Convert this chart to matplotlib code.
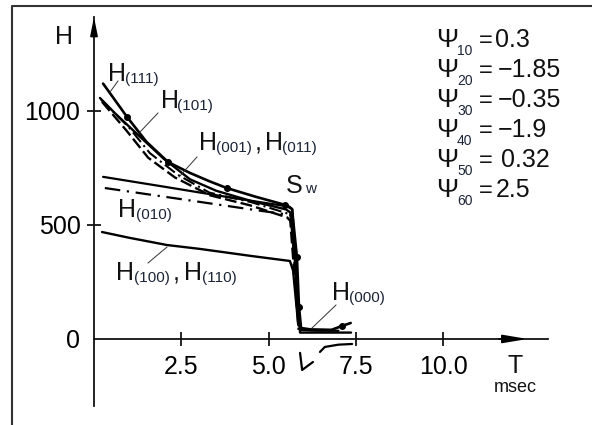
import numpy as np
import matplotlib
matplotlib.use('Agg')
import matplotlib.pyplot as plt
from matplotlib.lines import Line2D

plt.rcParams['font.family'] = ['Liberation Sans', 'DejaVu Sans']

W, H = 592, 425

# curve data, T in msec, H in field units
t111 = [0.26, 0.94, 1.5, 2.12, 2.75, 3.3, 3.8, 4.6, 5.47, 5.67, 5.81, 5.87, 5.93, 6.2, 6.8, 7.1, 7.35]
h111 = [1120, 975, 865, 776, 728, 692, 662, 625, 588, 570, 360, 140, 48, 42, 40, 57, 70]
dots111 = [1, 3, 6, 8, 10, 11, 15]

t101 = [0.17, 0.6, 1.26, 2.0, 2.75, 3.5, 4.5, 5.5, 5.62, 5.78, 5.9, 6.5, 7.36]
h101 = [1057, 990, 895, 790, 700, 650, 605, 568, 555, 300, 28, 28, 28]

t001 = [0.23, 0.94, 1.55, 2.32, 3.32, 4.47, 5.53, 5.62, 5.86]
h001 = [1040, 912, 795, 708, 630, 586, 533, 518, 40]

t011 = [0.2, 1.0, 1.6, 2.4, 3.3, 4.5, 5.55, 5.64, 5.88]
h011 = [1050, 928, 815, 720, 642, 600, 550, 534, 40]

t_up = [0.26, 2.0, 4.0, 5.6, 5.68, 5.9, 6.4, 7.0]
h_up = [711, 668, 618, 580, 568, 40, 36, 36]

t010 = [0.31, 2.5, 4.5, 5.61, 5.68, 5.88]
h010 = [662, 613, 568, 544, 530, 40]

t100 = [0.23, 1.0, 2.09, 3.03, 4.5, 5.61, 5.7, 5.85]
h100 = [469, 444, 412, 395, 364, 342, 300, 60]

# pieces below the T axis
t_v = [5.9, 5.96, 6.27]
h_v = [-61, -136, -101]
t_neg = [6.47, 6.61, 7.0, 7.39]
h_neg = [-57, -35, -25, -22]

psi_names = ['10', '20', '30', '40', '50', '60']
psi_vals = ['0.3', '\u22121.85', '\u22120.35', '\u22121.9', '0.32', '2.5']

xticks = [2.5, 5.0, 7.5, 10.0]
xlabels = ['2.5', '5.0', '7.5', '10.0']
yticks = [0, 500, 1000]
ylabels = ['0', '500', '1000']

fig = plt.figure(figsize=(W / 100, H / 100), dpi=100)
ax = fig.add_axes([94 / W, 19 / H, 454 / W, 389 / H])
ax.set_xlim(0, 13.0)
ax.set_ylim(-294, 1412)

for s in ['top', 'right']:
    ax.spines[s].set_visible(False)
ax.spines['bottom'].set_position(('data', 0))
for s in ['left', 'bottom']:
    ax.spines[s].set_linewidth(1.3)
    ax.spines[s].set_color('#111111')

ax.set_xticks(xticks)
ax.set_xticklabels(xlabels)
ax.set_yticks(yticks)
ax.set_yticklabels(ylabels)
ax.tick_params(axis='x', direction='inout', length=9.5, width=1.2, pad=7, labelsize=18)
ax.tick_params(axis='y', direction='inout', length=10.5, width=1.2, pad=4.5, labelsize=18)
ax.yaxis.get_major_ticks()[0].tick1line.set_visible(False)

# axis arrows
ax.annotate('', xy=(0, 1412), xytext=(0, 1330), annotation_clip=False,
            arrowprops=dict(arrowstyle='-|>,head_length=1.1,head_width=0.22',
                            color='k', lw=1.2, mutation_scale=10, shrinkA=0, shrinkB=0))
ax.annotate('', xy=(12.42, 0), xytext=(11.6, 0), annotation_clip=False,
            arrowprops=dict(arrowstyle='-|>,head_length=1.5,head_width=0.25',
                            color='k', lw=1.2, mutation_scale=10, shrinkA=0, shrinkB=0))

kw = dict(color='k', solid_joinstyle='round', solid_capstyle='round')
ax.plot(t111, h111, lw=1.9, marker='o', markersize=4, markevery=dots111, **kw)
ax.plot(t101, h101, lw=1.7, **kw)
ax.plot(t001, h001, lw=1.7, color='k', dashes=(5, 1.8))
ax.plot(t011, h011, lw=1.5, color='k', dashes=(6, 2, 1, 2))
ax.plot(t_up, h_up, lw=1.6, **kw)
ax.plot(t010, h010, lw=1.6, color='k', dashes=(7, 3, 1, 3))
ax.plot(t100, h100, lw=1.7, **kw)
ax.plot(t_v, h_v, lw=1.6, **kw)
ax.plot(t_neg, h_neg, lw=1.6, **kw)


def ftxt(x, y, s, size, color='#111111'):
    fig.text(x / W, 1 - y / H, s, fontsize=size, color=color, va='baseline', ha='left')


def fline(x0, y0, x1, y1):
    fig.add_artist(Line2D([x0 / W, x1 / W], [1 - y0 / H, 1 - y1 / H],
                          lw=0.7, color='#333333', transform=fig.transFigure))


sub = '#1c2538'
# axis names
ftxt(55, 44, 'H', 18)
ftxt(508, 373, 'T', 18)
ftxt(494, 392, 'msec', 13)

# curve labels
ftxt(108, 81, 'H', 18); ftxt(125, 83, '(111)', 11, sub)
ftxt(161, 108, 'H', 18); ftxt(177, 110, '(101)', 11, sub)
ftxt(199, 150, 'H', 18); ftxt(216, 152, '(001)', 11, sub)
ftxt(255, 150, ',', 18); ftxt(265, 150, 'H', 18); ftxt(282, 152, '(011)', 11, sub)
ftxt(118, 217, 'H', 18); ftxt(136, 219, '(010)', 11, sub)
ftxt(116, 280, 'H', 18); ftxt(134, 282, '(100)', 11, sub)
ftxt(173, 280, ',', 18); ftxt(184, 280, 'H', 18); ftxt(202, 282, '(110)', 11, sub)
ftxt(332, 300, 'H', 18); ftxt(349, 302, '(000)', 11, sub)
ftxt(286, 193, 'S', 18); ftxt(305, 193, 'w', 11, sub)

# leader lines
fline(118, 81, 110, 92)
fline(158, 113, 140, 132)
fline(197, 157, 179, 177)
fline(167, 247, 148, 263)
fline(336, 305, 312, 328)

# parameter block
val_x = [495, 498, 498, 498, 501, 496]
for i in range(len(psi_names)):
    yb = 47 + 30 * i
    ftxt(436, yb, '\u03a8', 19)
    ftxt(457, yb + 8, psi_names[i], 10, sub)
    ftxt(479, yb, '=', 17)
    ftxt(val_x[i], yb, psi_vals[i], 18)

# outer frame
fig.add_artist(Line2D([12 / W, 12 / W, 1.0], [0.0, 1 - 6 / H, 1 - 6 / H],
                      lw=1.5, color='#333333', transform=fig.transFigure))

fig.savefig('out.png', dpi=100)
